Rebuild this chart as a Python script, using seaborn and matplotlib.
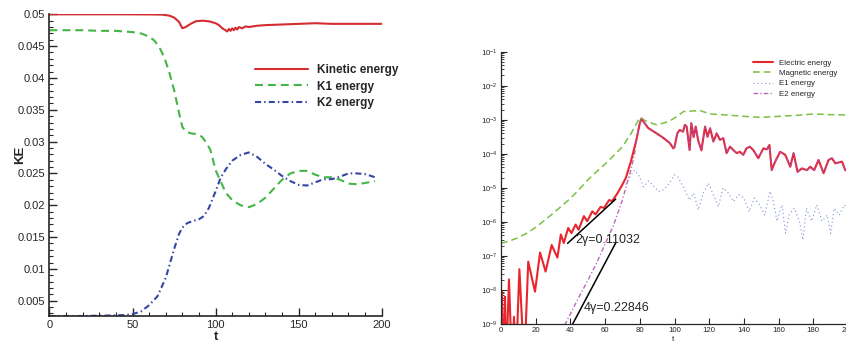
import numpy as np
import matplotlib
matplotlib.use("Agg")
import matplotlib.pyplot as plt
from matplotlib.ticker import MultipleLocator, FuncFormatter, LogLocator, NullFormatter
import seaborn as sns

# ------------------------------------------
# left panel: kinetic energy and its parts
# ------------------------------------------
kin_t = [0, 20, 40, 60, 68, 72, 75, 78, 80, 82, 85, 88, 92, 96, 100, 102, 104, 106, 107, 108,
         109, 110, 111, 112, 113, 114, 116, 118, 120, 125, 130, 140, 150, 160, 170, 180, 190, 200]
kin = [0.0500, 0.0500, 0.0500, 0.04998, 0.04995, 0.0498, 0.0495, 0.0488, 0.0478, 0.0480, 0.0485,
       0.0489, 0.0490, 0.0489, 0.0486, 0.0483, 0.0478, 0.0475, 0.0473, 0.0477, 0.0474, 0.0478,
       0.0475, 0.0479, 0.0476, 0.0480, 0.0478, 0.0481, 0.0480, 0.0482, 0.0483, 0.0484, 0.0485,
       0.0486, 0.0485, 0.0485, 0.0485, 0.0485]

k1_t = [0, 10, 20, 30, 40, 45, 50, 55, 60, 63, 66, 69, 72, 75, 78, 80, 82, 85, 88, 90, 92, 95,
        97, 100, 103, 106, 110, 115, 120, 125, 130, 135, 140, 145, 150, 155, 160, 165, 170, 175,
        180, 185, 190, 196]
k1 = [0.0475, 0.0475, 0.0475, 0.0474, 0.0474, 0.0473, 0.0472, 0.0470, 0.0465, 0.0459, 0.0449,
      0.0433, 0.0410, 0.0381, 0.0345, 0.0323, 0.0316, 0.0313, 0.0312, 0.0311, 0.0307, 0.0296,
      0.0286, 0.0255, 0.0238, 0.0220, 0.0208, 0.0200, 0.0197, 0.0202, 0.0212, 0.0226, 0.0240,
      0.0250, 0.0254, 0.0254, 0.0248, 0.0244, 0.0244, 0.0240, 0.0234, 0.0233, 0.0235, 0.0238]

k2_t = [0, 20, 40, 45, 50, 55, 60, 65, 70, 75, 78, 80, 83, 86, 90, 93, 96, 100, 103, 106, 110,
        115, 120, 125, 130, 135, 140, 145, 150, 155, 160, 165, 170, 175, 180, 185, 190, 196]
k2 = [0.0026, 0.0026, 0.0027, 0.00275, 0.0029, 0.0033, 0.0043, 0.0057, 0.0086, 0.0131, 0.0155,
      0.0165, 0.0172, 0.0175, 0.0178, 0.0183, 0.0196, 0.0222, 0.0243, 0.0256, 0.0270, 0.0279,
      0.0283, 0.0276, 0.0265, 0.0256, 0.0246, 0.0238, 0.0232, 0.0231, 0.0236, 0.0241, 0.0241,
      0.0245, 0.0250, 0.0250, 0.0249, 0.0244]

# ------------------------------------------
# right panel: field energies (log10 values)
# ------------------------------------------
elec_t = [0, 0.5, 1.3, 1.8, 2.3, 3.0, 4.6, 6.3, 7.5, 8.6, 10.6, 13.4, 15.7, 19.6, 22.5, 25.7,
          29.2, 32.5, 34.5, 36.2, 38.7, 40.6, 43.0, 44.7, 47.8, 49.7, 52.6, 54.5, 57.4, 59.4,
          62.3, 64.0, 67.0, 70.0, 72.0, 75.0, 78.0, 80.0, 81.0, 82.0, 85.0, 89.7, 93.5, 97.4,
          99.3, 100.0, 101.6, 103.0, 104.9, 106.0, 107.0, 108.7, 109.7, 111.0, 112.2, 113.6,
          115.5, 117.6, 119.0, 120.5, 122.4, 124.3, 126.2, 128.1, 130.0, 132.0, 133.9, 135.8,
          137.7, 139.6, 141.5, 143.4, 145.4, 148.3, 151.2, 153.2, 154.7, 156.0, 158.0, 160.9,
          163.8, 166.7, 168.6, 170.9, 173.4, 176.3, 178.2, 180.5, 183.0, 185.9, 188.8, 190.7,
          192.7, 196.5, 198.4, 200.0]
elec_log = [-8.3, -8.05, -9.6, -10.2, -8.2, -10.2, -7.69, -10.2, -8.79, -10.2, -7.39, -10.2,
            -7.17, -8.05, -6.90, -7.46, -6.68, -7.05, -6.37, -6.62, -6.18, -6.33, -6.08, -6.23,
            -5.83, -5.98, -5.69, -5.78, -5.56, -5.59, -5.36, -5.39, -5.17, -4.90, -4.70, -4.20,
            -3.60, -3.10, -2.96, -3.05, -3.25, -3.40, -3.53, -3.69, -3.84, -3.80, -3.40, -3.30,
            -3.35, -3.15, -3.20, -3.89, -3.10, -3.51, -3.20, -3.60, -3.90, -3.20, -3.50, -3.25,
            -3.64, -3.40, -3.59, -3.54, -3.98, -3.79, -3.89, -3.98, -3.94, -4.03, -3.84, -3.79,
            -3.89, -4.13, -3.84, -3.87, -3.74, -4.48, -4.23, -3.94, -4.03, -4.38, -3.98, -4.53,
            -4.43, -4.48, -4.38, -4.48, -4.18, -4.57, -4.18, -4.13, -4.28, -4.23, -4.48, -4.50]

mag_t = [0, 5, 10, 15, 20, 25, 30, 35, 40, 45, 50, 55, 60, 65, 70, 75, 80, 84, 89.7, 93.5, 97.4,
         101.2, 105.1, 110.8, 114.7, 120.5, 130, 140, 150, 160, 170, 180, 190, 200]
mag_log = [-6.63, -6.56, -6.46, -6.33, -6.16, -5.96, -5.75, -5.53, -5.31, -5.05, -4.77, -4.53,
           -4.30, -4.05, -3.79, -3.40, -2.93, -3.05, -3.15, -3.10, -3.03, -2.91, -2.76, -2.74,
           -2.73, -2.83, -2.86, -2.90, -2.93, -2.90, -2.87, -2.83, -2.85, -2.86]

e1_t = [72, 74, 77, 80, 82, 85, 88, 91, 94, 97, 100, 102, 105, 108.5, 111, 113.7, 116.6, 119.5,
        122.4, 125.3, 128, 131, 134, 137, 140, 143, 146, 149, 152, 155, 157, 159, 162, 164, 166,
        169, 172, 174, 176, 179, 182, 185, 188, 190, 192, 195, 198, 200]
e1_log = [-4.9, -4.7, -4.48, -4.68, -4.97, -4.80, -4.95, -5.11, -5.05, -4.86, -4.62, -4.68,
          -4.97, -5.36, -5.15, -5.65, -5.15, -4.86, -5.2, -5.55, -5.0, -5.15, -5.4, -5.2, -5.3,
          -5.7, -5.3, -5.5, -5.8, -5.1, -5.4, -5.98, -5.5, -6.34, -5.8, -5.6, -5.98, -6.53,
          -5.6, -5.98, -5.5, -5.98, -5.8, -6.34, -5.6, -5.8, -5.5, -5.7]

# E2 grows on its own, then sits under the electric curve
e2_early_t = [34, 36, 40, 45, 50, 55, 60, 65, 70, 73, 75, 77]
e2_early_log = [-9.3, -9.1, -8.7, -8.2, -7.72, -7.22, -6.65, -6.08, -5.35, -4.8, -4.45, -4.0]

fit1_t = [38.4, 66.1]
fit1_log = [-6.63, -5.33]
fit2_t = [41.3, 66.3]
fit2_log = [-9.0, -6.6]

elec = 10.0 ** np.array(elec_log)
mag = 10.0 ** np.array(mag_log)
e1 = 10.0 ** np.array(e1_log)
late = np.array(elec_t) >= 78
e2_t = np.concatenate([e2_early_t, np.array(elec_t)[late]])
e2 = np.concatenate([10.0 ** np.array(e2_early_log), elec[late]])

sns.set_style("ticks")
plt.rcParams['font.family'] = ['Liberation Sans', 'DejaVu Sans']
plt.rcParams['mathtext.fontset'] = 'custom'
plt.rcParams['mathtext.rm'] = 'Liberation Sans'
plt.rcParams['mathtext.it'] = 'Liberation Sans:italic'

fig = plt.figure(figsize=(8.46, 3.43), dpi=100)
ax1 = fig.add_axes([0.0585, 0.0787, 0.3927, 0.8796])
ax2 = fig.add_axes([0.5922, 0.0554, 0.4102, 0.7939])

# ---- left ----
sns.lineplot(x=kin_t, y=kin, ax=ax1, color='#d42c30', lw=1.5, label='Kinetic energy',
             sort=False, errorbar=None)
sns.lineplot(x=k1_t, y=k1, ax=ax1, color='#45b545', lw=1.5, linestyle=(0, (3.8, 2.4)),
             label='K1 energy', sort=False, errorbar=None)
sns.lineplot(x=k2_t, y=k2, ax=ax1, color='#3446a4', lw=1.5, linestyle=(0, (2.9, 1.5, 0.7, 1.5)),
             label='K2 energy', sort=False, errorbar=None)

ax1.set_xlim(0, 200)
ax1.set_ylim(0.0026, 0.05)
ax1.xaxis.set_major_locator(MultipleLocator(50))
ax1.xaxis.set_minor_locator(MultipleLocator(10))
ax1.yaxis.set_major_locator(MultipleLocator(0.005))
ax1.yaxis.set_minor_locator(MultipleLocator(0.001))
ax1.yaxis.set_major_formatter(FuncFormatter(lambda v, p: f"{v:g}"))
ax1.tick_params(which='major', direction='in', length=6, width=1.0, labelsize=8, pad=3)
ax1.tick_params(which='minor', direction='in', length=3, width=0.8)
sns.despine(ax=ax1)
for s in ['left', 'bottom']:
    ax1.spines[s].set_linewidth(1.2)
ax1.set_xlabel('t', fontsize=9.5, fontweight='bold')
ax1.set_ylabel('KE', fontsize=9.5, fontweight='bold')
ax1.xaxis.set_label_coords(0.5, -0.05)
ax1.yaxis.set_label_coords(-0.07, 0.533)
ax1.legend(loc='upper left', bbox_to_anchor=(0.619, 0.834), frameon=False,
           prop={'weight': 'bold', 'size': 8.5}, handlelength=4.5, handletextpad=0.75,
           labelspacing=0.35, borderpad=0, borderaxespad=0)

# ---- right ----
sns.lineplot(x=elec_t, y=elec, ax=ax2, color='#e8262d', lw=1.5, label='Electric energy',
             sort=False, errorbar=None)
sns.lineplot(x=mag_t, y=mag, ax=ax2, color='#7ac143', lw=1.1, linestyle=(0, (4.4, 2.6)),
             label='Magnetic energy', sort=False, errorbar=None)
sns.lineplot(x=e1_t, y=e1, ax=ax2, color='#7f8fd8', lw=0.8, linestyle=(0, (1, 2.5)),
             label='E1 energy', sort=False, errorbar=None)
sns.lineplot(x=e2_t, y=e2, ax=ax2, color='#b04fb0', lw=1.0, linestyle=(0, (3.3, 1.6, 0.9, 1.6)),
             label='E2 energy', sort=False, errorbar=None, alpha=0.85)
sns.lineplot(x=fit1_t, y=10.0 ** np.array(fit1_log), ax=ax2, color='black', lw=1.1,
             sort=False, errorbar=None)
sns.lineplot(x=fit2_t, y=10.0 ** np.array(fit2_log), ax=ax2, color='black', lw=1.1,
             sort=False, errorbar=None)

ax2.set_yscale('log')
ax2.set_xlim(0, 200)
ax2.set_ylim(1e-9, 1e-1)
ax2.xaxis.set_major_locator(MultipleLocator(20))
ax2.yaxis.set_major_locator(LogLocator(base=10, numticks=20))
ax2.yaxis.set_minor_locator(LogLocator(base=10, subs=np.arange(2, 10), numticks=20))
ax2.yaxis.set_minor_formatter(NullFormatter())
ax2.tick_params(which='major', direction='in', length=4, width=0.8, labelsize=5.6, pad=2.5)
ax2.tick_params(which='minor', direction='in', length=2, width=0.6)
sns.despine(ax=ax2)
for s in ['left', 'bottom']:
    ax2.spines[s].set_linewidth(0.9)
ax2.set_xlabel('t', fontsize=6)
ax2.xaxis.set_label_coords(0.496, -0.044)

ax2.text(42.7, 10 ** -6.53, '2γ=0.11032', fontsize=9, va='center')
ax2.text(47.4, 10 ** -8.52, '4γ=0.22846', fontsize=9, va='center')

ax2.legend(loc='upper left', bbox_to_anchor=(0.726, 0.972), frameon=False, fontsize=5.7,
           handlelength=2.5, handletextpad=0.8, labelspacing=0.35, borderpad=0,
           borderaxespad=0)

fig.savefig('out.png', dpi=100)
